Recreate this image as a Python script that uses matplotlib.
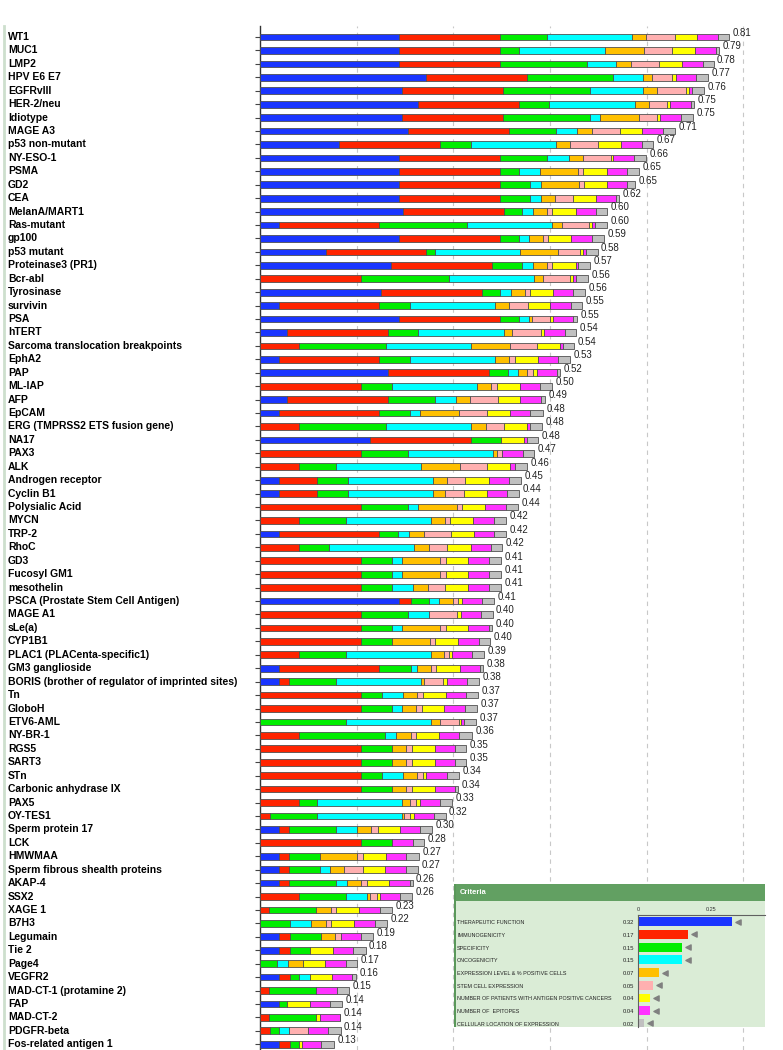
import matplotlib
matplotlib.use("Agg")
import matplotlib.pyplot as plt
import matplotlib.transforms as mtransforms
from matplotlib.lines import Line2D
from matplotlib.patches import Rectangle

plt.rcParams["font.family"] = ["Liberation Sans", "DejaVu Sans"]

antigens = [
    "WT1", "MUC1", "LMP2", "HPV E6 E7", "EGFRvIII", "HER-2/neu", "Idiotype",
    "MAGE A3", "p53 non-mutant", "NY-ESO-1", "PSMA", "GD2", "CEA",
    "MelanA/MART1", "Ras-mutant", "gp100", "p53 mutant", "Proteinase3 (PR1)",
    "Bcr-abl", "Tyrosinase", "survivin", "PSA", "hTERT",
    "Sarcoma translocation breakpoints", "EphA2", "PAP", "ML-IAP", "AFP",
    "EpCAM", "ERG (TMPRSS2 ETS fusion gene)", "NA17", "PAX3", "ALK",
    "Androgen receptor", "Cyclin B1", "Polysialic Acid", "MYCN", "TRP-2",
    "RhoC", "GD3", "Fucosyl GM1", "mesothelin",
    "PSCA (Prostate Stem Cell Antigen)", "MAGE A1", "sLe(a)", "CYP1B1",
    "PLAC1 (PLACenta-specific1)", "GM3 ganglioside",
    "BORIS (brother of regulator of imprinted sites)", "Tn", "GloboH",
    "ETV6-AML", "NY-BR-1", "RGS5", "SART3", "STn", "Carbonic anhydrase IX",
    "PAX5", "OY-TES1", "Sperm protein 17", "LCK", "HMWMAA",
    "Sperm fibrous shealth proteins", "AKAP-4", "SSX2", "XAGE 1", "B7H3",
    "Legumain", "Tie 2", "Page4", "VEGFR2", "MAD-CT-1 (protamine 2)", "FAP",
    "MAD-CT-2", "PDGFR-beta", "Fos-related antigen 1",
]

totals = [
    0.81, 0.79, 0.78, 0.77, 0.76, 0.75, 0.75, 0.71, 0.67, 0.66, 0.65, 0.65,
    0.62, 0.60, 0.60, 0.59, 0.58, 0.57, 0.56, 0.56, 0.55, 0.55, 0.54, 0.54,
    0.53, 0.52, 0.50, 0.49, 0.48, 0.48, 0.48, 0.47, 0.46, 0.45, 0.44, 0.44,
    0.42, 0.42, 0.42, 0.41, 0.41, 0.41, 0.41, 0.40, 0.40, 0.40, 0.39, 0.38,
    0.38, 0.37, 0.37, 0.37, 0.36, 0.35, 0.35, 0.34, 0.34, 0.33, 0.32, 0.30,
    0.28, 0.27, 0.27, 0.26, 0.26, 0.23, 0.22, 0.19, 0.18, 0.17, 0.16, 0.15,
    0.14, 0.14, 0.14, 0.13,
]

# weighted score per criterion, one value per antigen (same order as above)
therapeutic = [
    .240, .240, .240, .286, .245, .273, .245, .255, .136, .240, .240, .240,
    .240, .247, .032, .240, .113, .226, 0, .209, .032, .240, .047, 0,
    .032, .221, 0, .047, .032, 0, .189, 0, 0, .032, .032, 0,
    0, .032, 0, 0, 0, 0, .240, 0, 0, 0, 0, .032,
    .032, 0, 0, 0, 0, 0, 0, 0, 0, 0, 0, .032,
    0, .032, .032, .032, 0, 0, 0, .032, .032, 0, .032, 0,
    .032, 0, 0, .032,
]
immunogenicity = [
    .174, .174, .174, .174, .174, .174, .174, .174, .174, .174, .174, .174,
    .174, .174, .174, .174, .174, .174, .174, .174, .174, .174, .174, .067,
    .174, .174, .174, .174, .174, .067, .174, .174, .067, .067, .067, .174,
    .067, .174, .067, .174, .174, .174, .020, .174, .174, .174, .067, .174,
    .018, .174, .174, 0, .067, .174, .174, .174, .174, .067, .017, .018,
    .174, .018, .018, .018, .067, .016, 0, .019, .019, 0, .019, .016,
    0, .016, .017, .019,
]
specificity = [
    .081, .033, .150, .149, .150, .052, .150, .082, .053, .081, .032, .052,
    .052, .031, .151, .032, .014, .052, .151, .030, .053, .032, .052, .150,
    .053, .033, .053, .081, .053, .150, .052, .081, .064, .052, .052, .081,
    .081, .032, .052, .053, .053, .053, .031, .081, .053, .053, .081, .055,
    .081, .036, .054, .149, .149, .054, .054, .036, .054, .032, .081, .081,
    .054, .053, .053, .081, .082, .081, .052, .055, .036, .030, .016, .081,
    .015, .081, .016, .016,
]
oncogenicity = [
    .147, .147, .050, .051, .092, .147, .018, .036, .147, .037, .037, .018,
    .018, .018, .147, .017, .147, .018, .147, .019, .147, .017, .147, .147,
    .147, .017, .147, .036, .017, .147, 0, .147, .147, .147, .147, .018,
    .147, .019, .147, .017, .017, .037, .018, .036, .017, 0, .146, .009,
    .146, .037, .017, .146, .019, 0, 0, .037, 0, .145, .146, .037,
    0, 0, .017, .019, .036, 0, .036, 0, 0, .019, .019, 0,
    0, 0, .017, 0,
]
expression = [
    .024, .068, .025, .015, .024, .024, .066, .025, .025, .025, .066, .066,
    .024, .024, .016, .025, .066, .024, .016, .025, .024, .006, .015, .067,
    .024, .016, .025, .024, .067, .025, 0, .006, .066, .024, .021, .066,
    .024, .025, .025, .067, .067, .025, .024, 0, .067, .066, .024, .024,
    .006, .024, .024, .015, .025, .024, .024, .024, .024, .015, .005, .024,
    0, .065, .025, .024, .005, .025, .025, .024, 0, .025, 0, 0,
    0, 0, 0, 0,
]
stem_cell = [
    .049, .048, .049, .036, .049, .032, .032, .048, .048, .049, .008, .009,
    .032, .010, .047, .009, .038, .010, .047, .009, .032, .031, .049, .047,
    .009, .010, .009, .048, .048, .032, 0, .009, .048, .032, .032, .010,
    .009, .047, .032, .009, .009, .030, .009, .049, .009, .009, .008, .010,
    .033, .010, .011, .033, .009, .010, .010, .010, .010, .010, .010, .011,
    0, .010, .032, .010, .012, .009, .009, .009, 0, 0, 0, 0,
    0, 0, .032, 0,
]
patients = [
    .038, .040, .039, .006, .005, .005, .005, .039, .040, .003, .041, .040,
    .039, .040, .005, .040, .005, .040, .005, .040, .038, .006, .006, .040,
    .040, .006, .040, .039, .040, .040, .040, 0, .039, .040, .040, .039,
    .040, .040, .040, .039, .039, .040, .006, .006, .039, .040, .005, .040,
    .006, .039, .038, .004, .039, .039, .039, .006, .039, .007, .006, .038,
    0, .039, .039, .039, .005, .040, .040, 0, .038, .038, .038, 0,
    .039, .006, 0, .005,
]
epitopes = [
    .036, .036, .036, .035, .005, .036, .035, .036, .035, .035, .035, .034,
    .034, .035, .005, .036, .005, .005, .005, .034, .036, .034, .035, .005,
    .035, .035, .035, .036, .035, .005, .005, .036, .008, .036, .035, .036,
    .036, .035, .035, .035, .035, .035, .035, .035, .035, .035, .035, .035,
    .035, .035, .035, .005, .035, .035, .035, .035, .035, .035, .035, .035,
    .035, .035, .035, .035, .034, .036, .036, .035, .036, .036, .035, .036,
    .035, .035, .036, .034,
]
location = [
    .020, .005, .019, .020, .021, .006, .022, .020, .020, .021, .021, .014,
    .006, .020, .021, .020, .020, .020, .021, .020, .020, .006, .020, .019,
    .020, .005, .020, .006, .022, .020, .019, .020, .022, .020, .020, .021,
    .020, .020, .020, .021, .021, .021, .021, .020, .006, .020, .021, .006,
    .020, .021, .021, .020, .022, .020, .020, .021, .005, .020, .020, .021,
    .020, .022, .021, .005, .021, .020, .021, .021, .021, .020, .006, .020,
    .021, 0, .021, .021,
]

criteria = [
    "THERAPEUTIC FUNCTION", "IMMUNOGENICITY", "SPECIFICITY", "ONCOGENICITY",
    "EXPRESSION LEVEL & % POSITIVE CELLS", "STEM CELL EXPRESSION",
    "NUMBER OF PATIENTS WITH ANTIGEN POSITIVE CANCERS", "NUMBER OF  EPITOPES",
    "CELLULAR LOCATION OF EXPRESSION",
]
weights = [0.32, 0.17, 0.15, 0.15, 0.07, 0.05, 0.04, 0.04, 0.02]

colors = ["#1a35ff", "#ff2400", "#00ee00", "#00ffff", "#ffc000",
          "#ffb0b0", "#ffff00", "#ff33ff", "#c0c0c0"]

series = [therapeutic, immunogenicity, specificity, oncogenicity, expression,
          stem_cell, patients, epitopes, location]

W, H = 783, 1050


def fx(px):
    return px / W


def fy(py):
    return 1 - py / H


fig = plt.figure(figsize=(W / 100, H / 100), dpi=100)
fig.patch.set_facecolor("white")

# --- main stacked bar chart ------------------------------------------------ #
ax = fig.add_axes([fx(260), 0, fx(W - 260), (H - 26) / H])
n = len(antigens)
rows = list(range(n))
left = [0.0] * n
for vals, col in zip(series, colors):
    ax.barh(rows, vals, left=left, height=0.5, color=col,
            edgecolor="#505050", linewidth=0.6, zorder=3)
    left = [a + b for a, b in zip(left, vals)]

for i, (end, tot) in enumerate(zip(left, totals)):
    ax.annotate(f"{tot:.2f}", xy=(end, i), xytext=(2.5, 3), fontsize=7,
                textcoords="offset points", ha="left", va="center",
                color="#222222", zorder=4)

ax.set_xlim(0, (W - 260) / 580)
ax.set_ylim((H - 37) / 13.43, -11 / 13.43)
ax.set_xticks([k / 6 for k in range(1, 6)])
ax.set_xticklabels([])
ax.tick_params(axis="x", length=0)
ax.grid(axis="x", color="#c8c8c8", linestyle=(0, (4, 4)), linewidth=0.8,
        zorder=0)
ax.set_yticks(rows)
ax.set_yticklabels([])
ax.tick_params(axis="y", length=3.5, width=0.8, color="#444444")
for s in ("top", "right", "bottom"):
    ax.spines[s].set_visible(False)
ax.spines["left"].set_color("#333333")
ax.spines["left"].set_linewidth(1)

lab_tr = mtransforms.blended_transform_factory(fig.transFigure, ax.transData)
for i, name in enumerate(antigens):
    ax.text(fx(8), i, name, transform=lab_tr, ha="left", va="center",
            fontsize=7.5, fontweight="bold", color="black", clip_on=False)

fig.add_artist(Line2D([fx(4), fx(4)], [0, fy(26)], transform=fig.transFigure,
                      color="#cddfcd", linewidth=2))

# --- criteria panel --------------------------------------------------------- #
fig.add_artist(Rectangle((fx(454), fy(1027)), fx(765 - 454), (1027 - 901) / H,
                         transform=fig.transFigure, facecolor="#daecd6",
                         edgecolor="none", zorder=5))
fig.add_artist(Rectangle((fx(454), fy(901)), fx(765 - 454), (901 - 884) / H,
                         transform=fig.transFigure, facecolor="#62a062",
                         edgecolor="none", zorder=5))
fig.add_artist(Rectangle((fx(454), fy(1027)), fx(2), (1027 - 884) / H,
                         transform=fig.transFigure, facecolor="#5a985a",
                         edgecolor="none", zorder=5))
fig.text(fx(460), fy(893), "Criteria", color="white", fontsize=5.5,
         fontweight="bold", ha="left", va="center", zorder=6)

ax2 = fig.add_axes([fx(638), fy(1027), fx(765 - 638), (1027 - 915) / H])
ax2.set_zorder(7)
ax2.patch.set_alpha(0)
k = len(criteria)
ax2.barh(range(k), weights, height=0.69, color=colors, edgecolor="none")
ax2.scatter([w + 6 / 293 for w in weights], range(k), marker="<", s=14,
            color="#808080", zorder=3)
ax2.set_xlim(0, 127 / 293)
ax2.set_ylim(8.29, -0.53)
ax2.set_xticks([])
ax2.set_yticks([])
for s in ("right", "bottom"):
    ax2.spines[s].set_visible(False)
for s in ("top", "left"):
    ax2.spines[s].set_color("#606060")
    ax2.spines[s].set_linewidth(0.8)
ax2.text(0, -0.95, "0", fontsize=4, ha="center", va="center", color="#333333")
ax2.text(0.25, -0.95, "0.25", fontsize=4, ha="center", va="center",
         color="#333333")

for j, (name, w) in enumerate(zip(criteria, weights)):
    yy = fy(922.7 + j * 12.67)
    fig.text(fx(457), yy, name, fontsize=3.9, ha="left", va="center",
             color="#222222", zorder=6)
    fig.text(fx(634), yy, f"{w:.2f}", fontsize=4.2, ha="right", va="center",
             color="#222222", zorder=6)

fig.savefig("out.png", dpi=100)
